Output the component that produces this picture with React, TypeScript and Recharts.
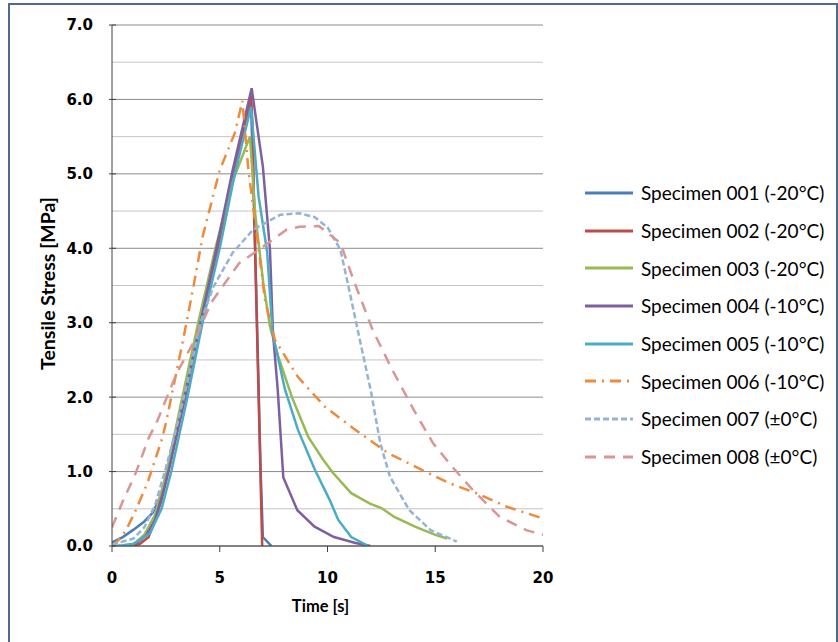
import React from "react";
import {
  LineChart,
  Line,
  XAxis,
  YAxis,
  CartesianGrid,
  Legend,
} from "recharts";

type Pt = [number, number];

// time [s], tensile stress [MPa]
const spec001: Pt[] = [
  [0, 0.05], [0.5, 0.12], [1.0, 0.22], [1.5, 0.33], [1.9, 0.45], [2.3, 0.7],
  [2.7, 1.15], [3.4, 2.05], [4.1, 3.0], [4.9, 4.0], [5.65, 5.0], [6.45, 5.95],
  [6.6, 4.5], [6.9, 1.0], [7.0, 0.12], [7.4, 0],
];
const spec002: Pt[] = [
  [1.0, 0], [1.3, 0.03], [1.7, 0.12], [2.0, 0.35], [2.3, 0.62], [2.65, 1.05],
  [3.4, 2.0], [4.1, 2.98], [4.9, 4.0], [5.65, 5.0], [6.45, 6.05], [6.53, 5.6],
  [6.6, 4.43], [6.64, 3.98], [6.97, 0],
];
const spec003: Pt[] = [
  [0.9, 0], [1.5, 0.15], [2.0, 0.42], [2.5, 0.95], [3.3, 2.05], [4.0, 3.0],
  [4.8, 4.0], [5.6, 4.9], [6.4, 5.5], [6.65, 4.45], [7.02, 3.53], [7.33, 2.95],
  [7.72, 2.54], [8.35, 2.0], [9.1, 1.47], [9.8, 1.16], [10.26, 0.98],
  [11.1, 0.71], [11.97, 0.57], [12.5, 0.51], [13.1, 0.39], [14.06, 0.26],
  [15.0, 0.15], [15.55, 0.1],
];
const spec004: Pt[] = [
  [0.8, 0], [1.2, 0.05], [1.6, 0.15], [2.0, 0.35], [2.4, 0.75], [2.7, 1.1],
  [3.4, 2.05], [4.1, 3.0], [4.85, 4.0], [5.6, 5.05], [6.48, 6.15], [7.0, 5.1],
  [7.33, 3.98], [7.47, 2.86], [7.69, 2.1], [7.95, 0.92], [8.6, 0.48],
  [9.4, 0.26], [10.3, 0.12], [11.3, 0.04], [12.0, 0],
];
const spec005: Pt[] = [
  [0, 0], [0.5, 0.01], [1.0, 0.03], [1.76, 0.17], [2.3, 0.5], [2.75, 1.0],
  [3.5, 2.0], [4.2, 3.0], [5.0, 4.0], [5.7, 5.0], [6.45, 5.9], [6.8, 4.7],
  [7.2, 3.95], [7.45, 2.86], [8.03, 2.1], [8.63, 1.56], [9.42, 1.02],
  [10.1, 0.62], [10.5, 0.35], [11.1, 0.12], [11.9, 0],
];
const spec006: Pt[] = [
  [0, 0], [0.3, 0.08], [0.65, 0.21], [1.1, 0.48], [1.65, 0.85], [2.3, 1.42],
  [2.5, 1.65], [3.3, 2.77], [3.75, 3.44], [4.2, 4.15], [5.0, 5.05],
  [5.7, 5.55], [6.05, 5.98], [6.33, 5.05], [6.87, 3.84], [7.1, 3.3],
  [7.56, 2.77], [8.63, 2.27], [9.88, 1.87], [11.3, 1.56], [12.8, 1.25],
  [14.4, 1.02], [15.6, 0.85], [16.9, 0.71], [18.3, 0.53], [20, 0.37],
];
const spec007: Pt[] = [
  [0, 0.02], [1.0, 0.1], [1.5, 0.25], [2.0, 0.55], [2.5, 1.05], [3.0, 1.6],
  [3.5, 2.2], [4.1, 3.0], [4.7, 3.48], [5.6, 3.94], [6.55, 4.25], [7.8, 4.45],
  [8.7, 4.47], [9.4, 4.42], [10.0, 4.28], [10.6, 3.98], [11.0, 3.45],
  [11.5, 2.77], [12.0, 2.1], [12.45, 1.38], [12.9, 0.93], [13.8, 0.48],
  [14.8, 0.21], [16.0, 0.06],
];
const spec008: Pt[] = [
  [0, 0.25], [0.5, 0.6], [1.1, 0.98], [1.7, 1.45], [2.1, 1.68], [3.0, 2.32],
  [3.9, 2.8], [4.6, 3.27], [5.9, 3.8], [7.0, 4.02], [8.1, 4.25], [8.7, 4.29],
  [9.6, 4.3], [10.6, 4.07], [11.2, 3.58], [12.1, 2.9], [13.0, 2.37],
  [14.0, 1.83], [14.9, 1.38], [15.8, 1.06], [16.75, 0.75], [18.0, 0.39],
  [19.25, 0.21], [20, 0.15],
];

const names = [
  "Specimen 001 (-20°C)",
  "Specimen 002 (-20°C)",
  "Specimen 003 (-20°C)",
  "Specimen 004 (-10°C)",
  "Specimen 005 (-10°C)",
  "Specimen 006 (-10°C)",
  "Specimen 007 (±0°C)",
  "Specimen 008 (±0°C)",
];
const colors = [
  "#4a7ebb", "#be4b48", "#98b954", "#7d60a0",
  "#4bacc6", "#ee8a3c", "#95b3d7", "#d99694",
];
const dashes = [undefined, undefined, undefined, undefined, undefined, "11 6 2 6", "6 3", "11 8"];
const allData = [spec001, spec002, spec003, spec004, spec005, spec006, spec007, spec008];

const xTicks = [0, 5, 10, 15, 20];
const yTicks = [0, 0.5, 1, 1.5, 2, 2.5, 3, 3.5, 4, 4.5, 5, 5.5, 6, 6.5, 7];

const toRows = (pts: Pt[]) => pts.map(([t, s]) => ({ t, s }));

const tickFont = "'DejaVu Sans', Verdana, sans-serif";
const textFont = "Lato, 'Open Sans', sans-serif";

const YTick = (props: any) => {
  const { x, y, payload } = props;
  const v = payload.value;
  if (v % 1 !== 0) return null;
  return (
    <g>
      <line x1={x + 5} x2={x + 12} y1={y} y2={y} stroke="#404040" />
      <text x={x - 11} y={y} dy="0.36em" textAnchor="end" fontFamily={tickFont}
        fontWeight="bold" fontSize={15} fill="#000">
        {v.toFixed(1)}
      </text>
    </g>
  );
};

const GridLine = (props: any) => {
  const { x1, x2, y1, y2, index } = props;
  const major = index % 2 === 0;
  return (
    <line x1={x1} x2={x2} y1={y1} y2={y2}
      stroke={major ? "#8c8c8c" : "#c4c4c4"} strokeWidth={1} />
  );
};

const YTitle = (props: any) => {
  const { viewBox } = props;
  const cx = 47;
  const cy = viewBox.y + viewBox.height / 2 - 2;
  return (
    <text x={cx} y={cy} transform={`rotate(-90, ${cx}, ${cy})`} textAnchor="middle"
      dominantBaseline="central" fontFamily={textFont} fontWeight="bold" fontSize={19.5} fill="#000">
      Tensile Stress [MPa]
    </text>
  );
};

const XTitle = (props: any) => {
  const { viewBox } = props;
  return (
    <text x={viewBox.x + viewBox.width / 2 - 7} y={606} textAnchor="middle"
      dominantBaseline="central" fontFamily={textFont} fontWeight="bold" fontSize={16.5} fill="#000">
      Time [s]
    </text>
  );
};

const LegendBox = () => (
  <div style={{ fontFamily: textFont, fontSize: 19, color: "#000" }}>
    {names.map((n, i) => (
      <div key={n} style={{ display: "flex", alignItems: "center", height: 37.7 }}>
        <svg width={56} height={10} style={{ marginRight: 5 }}>
          <line x1={5} x2={53} y1={5} y2={5} stroke={colors[i]} strokeWidth={3}
            strokeDasharray={dashes[i]} />
        </svg>
        <span style={{ whiteSpace: "nowrap" }}>{n}</span>
      </div>
    ))}
  </div>
);

export default function App() {
  return (
    <div style={{ position: "absolute", left: 0, top: 0, width: 838, height: 642, background: "#fff", overflow: "hidden" }}>
      <div style={{ position: "absolute", left: 8, top: 3, width: 826, height: 660, border: "2px solid #4f6a8f" }} />
      <div style={{ position: "absolute", left: 0, top: 0 }}>
        <LineChart width={838} height={642} margin={{ top: 25, right: 295, bottom: 0, left: 0 }}>
          <CartesianGrid vertical={false} horizontal={GridLine} />
          <XAxis type="number" dataKey="t" domain={[0, 20]} ticks={xTicks} height={96}
            axisLine={{ stroke: "#404040" }} tickLine={{ stroke: "#404040" }} tickSize={6} tickMargin={20}
            tick={{ fontFamily: tickFont, fontWeight: "bold", fontSize: 15, fill: "#000" }}
            allowDataOverflow label={<XTitle />} />
          <YAxis type="number" domain={[0, 7]} ticks={yTicks} width={112} interval={0}
            axisLine={{ stroke: "#404040" }} tickLine={false} tick={<YTick />}
            allowDataOverflow label={<YTitle />} />
          <Legend layout="vertical" align="center" verticalAlign="middle"
            wrapperStyle={{ left: 580, top: 174, width: 258 }} content={<LegendBox />} />
          {allData.map((d, i) => (
            <Line key={names[i]} data={toRows(d)} dataKey="s" name={names[i]} type="linear"
              stroke={colors[i]} strokeWidth={2.5} strokeDasharray={dashes[i]}
              dot={false} activeDot={false} isAnimationActive={false} />
          ))}
        </LineChart>
      </div>
    </div>
  );
}
